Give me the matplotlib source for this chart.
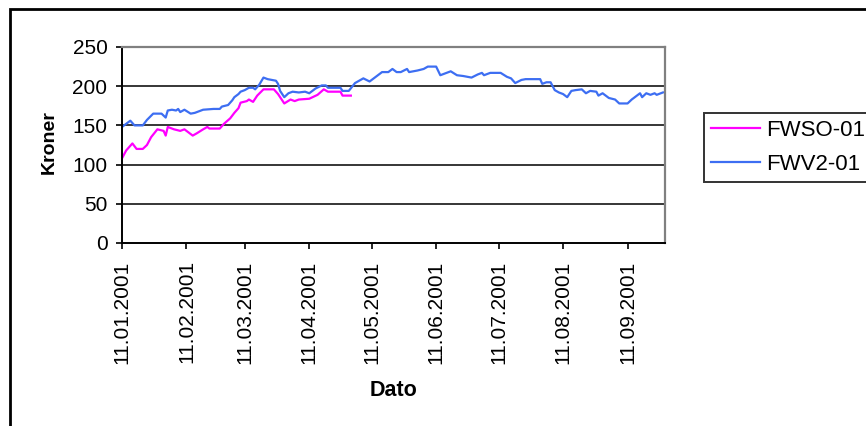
import numpy as np
import pandas as pd
import matplotlib
matplotlib.use("Agg")
import matplotlib.pyplot as plt
import matplotlib.dates as mdates
from matplotlib.patches import Rectangle

plt.rcParams['font.family'] = ['Liberation Sans', 'DejaVu Sans']

# Kursdata, kroner per andel
fwv2_dates = ['2001-01-11', '2001-01-13', '2001-01-15', '2001-01-17', '2001-01-21', '2001-01-23',
              '2001-01-26', '2001-01-30', '2001-02-01', '2001-02-02', '2001-02-04', '2001-02-06',
              '2001-02-07', '2001-02-08', '2001-02-10', '2001-02-13', '2001-02-15', '2001-02-17',
              '2001-02-19', '2001-02-24', '2001-02-27', '2001-02-28', '2001-03-03', '2001-03-05',
              '2001-03-06', '2001-03-08', '2001-03-09', '2001-03-11', '2001-03-13', '2001-03-15',
              '2001-03-16', '2001-03-18', '2001-03-20', '2001-03-22', '2001-03-26', '2001-03-27',
              '2001-03-28', '2001-03-30', '2001-04-01', '2001-04-03', '2001-04-06', '2001-04-09',
              '2001-04-11', '2001-04-14', '2001-04-17', '2001-04-19', '2001-04-20', '2001-04-26',
              '2001-04-27', '2001-04-30', '2001-05-03', '2001-05-07', '2001-05-10', '2001-05-13',
              '2001-05-16', '2001-05-19', '2001-05-21', '2001-05-23', '2001-05-25', '2001-05-28',
              '2001-05-29', '2001-06-02', '2001-06-05', '2001-06-07', '2001-06-11', '2001-06-13',
              '2001-06-16', '2001-06-18', '2001-06-21', '2001-06-24', '2001-06-28', '2001-07-01',
              '2001-07-03', '2001-07-04', '2001-07-07', '2001-07-12', '2001-07-15', '2001-07-17',
              '2001-07-19', '2001-07-22', '2001-07-24', '2001-07-31', '2001-08-01', '2001-08-03',
              '2001-08-05', '2001-08-07', '2001-08-09', '2001-08-11', '2001-08-13', '2001-08-15',
              '2001-08-17', '2001-08-20', '2001-08-22', '2001-08-24', '2001-08-27', '2001-08-28',
              '2001-08-30', '2001-09-02', '2001-09-05', '2001-09-07', '2001-09-11', '2001-09-13',
              '2001-09-14', '2001-09-17', '2001-09-18', '2001-09-20', '2001-09-22', '2001-09-24',
              '2001-09-25', '2001-09-28']
fwv2_values = [148, 152, 156, 150, 150, 157,
               165, 165, 160, 169, 170, 169,
               171, 167, 170, 165, 166, 168,
               170, 171, 171, 174, 176, 182,
               186, 190, 193, 195, 198, 198,
               196, 202, 211, 209, 207, 203,
               194, 186, 191, 193, 192, 193,
               191, 197, 201, 201, 198, 198,
               194, 194, 204, 210, 206, 212,
               218, 218, 222, 218, 218, 222,
               218, 220, 222, 225, 225, 214,
               217, 219, 214, 213, 211, 215,
               217, 214, 217, 217, 212, 210,
               204, 208, 209, 209, 203, 205,
               205, 195, 192, 190, 186, 194,
               195, 196, 191, 194, 193, 188,
               191, 185, 183, 178, 178, 183,
               185, 191, 186, 191, 189, 191,
               189, 192]

fwso_dates = ['2001-01-11', '2001-01-13', '2001-01-16', '2001-01-18', '2001-01-21', '2001-01-23',
              '2001-01-25', '2001-01-28', '2001-01-31', '2001-02-01', '2001-02-02', '2001-02-05',
              '2001-02-08', '2001-02-10', '2001-02-12', '2001-02-14', '2001-02-16', '2001-02-19',
              '2001-02-21', '2001-02-22', '2001-02-27', '2001-03-01', '2001-03-04', '2001-03-06',
              '2001-03-08', '2001-03-09', '2001-03-12', '2001-03-13', '2001-03-15', '2001-03-17',
              '2001-03-20', '2001-03-25', '2001-03-27', '2001-03-28', '2001-03-30', '2001-04-02',
              '2001-04-04', '2001-04-06', '2001-04-11', '2001-04-15', '2001-04-18', '2001-04-20',
              '2001-04-26', '2001-04-27', '2001-05-01']
fwso_values = [108, 118, 127, 120, 120, 125,
               135, 145, 143, 137, 148, 145,
               143, 145, 141, 137, 140, 145,
               148, 146, 146, 152, 159, 166,
               172, 179, 181, 183, 180, 188,
               196, 196, 190, 186, 178, 183,
               181, 183, 184, 189, 196, 193,
               193, 188, 188]

tick_dates = ['2001-01-11', '2001-02-11', '2001-03-11', '2001-04-11', '2001-05-11',
              '2001-06-11', '2001-07-11', '2001-08-11', '2001-09-11']

fwv2 = pd.Series(fwv2_values, index=pd.to_datetime(fwv2_dates))
fwso = pd.Series(fwso_values, index=pd.to_datetime(fwso_dates))

W, H = 866, 426
fig = plt.figure(figsize=(W / 100, H / 100), dpi=100)
ax = fig.add_axes([122 / W, 1 - 243 / H, (665 - 122) / W, (243 - 47) / H])

ax.plot(fwso.index, fwso.values, color='#ff00ff', lw=1.6, label='FWSO-01')
ax.plot(fwv2.index, fwv2.values, color='#3d6ef2', lw=1.6, label='FWV2-01')

ax.set_xlim(pd.Timestamp('2001-01-11'), pd.Timestamp('2001-09-29'))
ax.set_ylim(0, 250)
ax.set_yticks(np.arange(0, 251, 50))
ax.set_xticks(pd.to_datetime(tick_dates))
ax.xaxis.set_major_formatter(mdates.DateFormatter('%d.%m.%Y'))

for y in [50, 100, 150, 200]:
    ax.axhline(y, color='black', lw=1.1, zorder=0)

ax.spines['left'].set_color('black')
ax.spines['bottom'].set_color('black')
ax.spines['left'].set_linewidth(1.4)
ax.spines['bottom'].set_linewidth(1.4)
ax.spines['top'].set_color('#808080')
ax.spines['right'].set_color('#808080')
ax.spines['top'].set_linewidth(1.6)
ax.spines['right'].set_linewidth(1.6)

ax.tick_params(axis='y', direction='out', length=4.5, width=1.2, pad=6, labelsize=15)
ax.tick_params(axis='x', direction='out', length=4.5, width=1.2, pad=8, labelsize=15,
               labelrotation=90)

fig.text(49 / W, 1 - 142 / H, 'Kroner', rotation=90, ha='center', va='center',
         fontsize=14, fontweight='bold')
fig.text(393.5 / W, 1 - 391 / H, 'Dato', ha='center', va='center',
         fontsize=15.5, fontweight='bold')

leg = fig.legend(loc='upper left', bbox_to_anchor=(704 / W, 1 - 113 / H),
                 borderaxespad=0, fontsize=16, handlelength=2.2, handletextpad=0.3,
                 borderpad=0.3, labelspacing=0.6, fancybox=False, frameon=True)
leg.get_frame().set_edgecolor('black')
leg.get_frame().set_linewidth(1.4)

# ramme rundt hele diagrammet
fig.add_artist(Rectangle((10 / W, -0.1), 1.0, 1.1 - 9.5 / H, transform=fig.transFigure,
                         fill=False, edgecolor='black', lw=2.0))

fig.savefig('out.png', dpi=100)
